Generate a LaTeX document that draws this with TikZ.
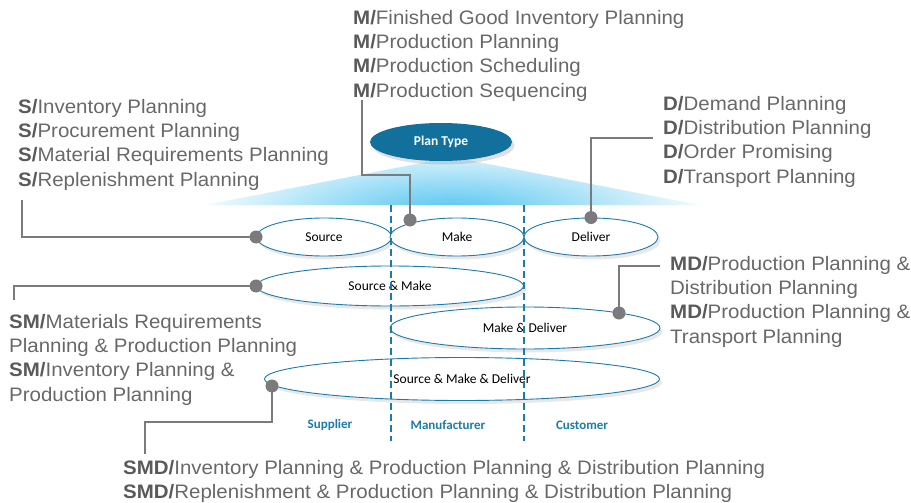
\documentclass[tikz,border=0pt]{standalone}
\usepackage{fontspec}
\setmainfont{Liberation Sans}
\newfontfamily\labfont[FakeStretch=1.05]{Liberation Sans}
\newfontfamily\calfont{Carlito}
\usetikzlibrary{shapes.geometric,shadows}
\definecolor{tealline}{HTML}{1B7BAA}
\definecolor{tealfill}{HTML}{11709C}
\definecolor{fanblue}{HTML}{4EC3F0}
\definecolor{txtgray}{HTML}{686868}
\definecolor{boldgray}{HTML}{5A5A5A}
\definecolor{lngray}{HTML}{7B7B7E}
\newcommand{\pre}[1]{{\bfseries\color{boldgray}#1}}
\tikzset{
  lbl/.style={anchor=north west, align=left, text=txtgray, inner sep=0pt,
    font=\labfont\fontsize{19.5}{24.3}\selectfont},
  oval/.style={ellipse, draw=tealline, line width=0.9pt, fill=white, inner sep=0pt,
    font=\calfont\fontsize{13.5}{15}\selectfont,
    drop shadow={opacity=0.18, shadow xshift=2.5pt, shadow yshift=-3.5pt}},
  conn/.style={draw=lngray, line width=2.5pt},
  dotn/.style={circle, fill=lngray, inner sep=0pt, minimum size=13pt},
  divider/.style={draw=tealline, line width=2pt, dash pattern=on 7pt off 4pt},
  region/.style={text=tealline, font=\calfont\bfseries\fontsize{13}{15}\selectfont}
}
\begin{document}
\begin{tikzpicture}[x=1pt,y=-1pt]
\useasboundingbox (0,0) rectangle (911,503);
% fan of light
\begin{scope}
  \clip (205,205) -- (452,157) -- (700,205) -- cycle;
  \shade[inner color=fanblue, outer color=white] (452,214) ellipse (270pt and 74pt);
\end{scope}
% plan type
\node[ellipse, fill=tealfill, minimum width=142pt, minimum height=38pt, inner sep=0pt,
  text=white, font=\calfont\bfseries\fontsize{13.5}{15}\selectfont,
  drop shadow={opacity=0.25, shadow xshift=2.5pt, shadow yshift=-3.5pt}] (plan) at (441,142) {Plan Type};
% ellipses
\node[oval, minimum width=135pt, minimum height=38pt] (src) at (324,237) {Source};
\node[oval, minimum width=134pt, minimum height=38pt] (mk) at (457,237) {Make};
\node[oval, minimum width=134pt, minimum height=38pt] (dl) at (591,237) {Deliver};
\node[oval, minimum width=267pt, minimum height=40pt] (sm) at (390,286) {Source \& Make};
\node[oval, minimum width=270pt, minimum height=42pt] (md) at (525,328) {Make \& Deliver};
\node[oval, minimum width=395pt, minimum height=43pt] (smd) at (462,379) {Source \& Make \& Deliver};
% dividers
\coordinate (d1t) at (390.5,205); \coordinate (d1b) at (390.5,441);
\coordinate (d2t) at (524,205); \coordinate (d2b) at (524,441);
\draw[divider] (d1t) -- (d1b);
\draw[divider] (d2t) -- (d2b);
% region labels
\node[region] (sup) at (330,425) {Supplier};
\node[region] (man) at (448,425) {Manufacturer};
\node[region] (cus) at (582,425) {Customer};
% text blocks
\node[lbl] (ts) at (18,99) {\pre{S/}Inventory Planning\\\pre{S/}Procurement Planning\\\pre{S/}Material Requirements Planning\\\pre{S/}Replenishment Planning};
\node[lbl] (tm) at (353,10) {\pre{M/}Finished Good Inventory Planning\\\pre{M/}Production Planning\\\pre{M/}Production Scheduling\\\pre{M/}Production Sequencing};
\node[lbl] (td) at (663,96) {\pre{D/}Demand Planning\\\pre{D/}Distribution Planning\\\pre{D/}Order Promising\\\pre{D/}Transport Planning};
\node[lbl] (tsm) at (9,314) {\pre{SM/}Materials Requirements\\Planning \& Production Planning\\\pre{SM/}Inventory Planning \&\\Production Planning};
\node[lbl] (tmd) at (670,256) {\pre{MD/}Production Planning \&\\Distribution Planning\\\pre{MD/}Production Planning \&\\Transport Planning};
\node[lbl] (tsmd) at (123,460) {\pre{SMD/}Inventory Planning \& Production Planning \& Distribution Planning\\\pre{SMD/}Replenishment \& Production Planning \& Distribution Planning};
% connector points
\coordinate (ps) at (src.west);
\coordinate (pm) at (410,220);
\coordinate (pd) at (dl.north);
\coordinate (psm) at (sm.west);
\coordinate (pmd) at (619,313);
\coordinate (psmd) at (272,386);
\coordinate (es) at (22,200);
\coordinate (em) at (362,100);
\coordinate (ed) at (653,138);
\coordinate (esm) at (14,300);
\coordinate (emd) at (660,266);
\coordinate (esmd) at (145,454);
% connectors
\draw[conn] (ps) -- (es |- ps) -- (es);
\draw[conn] (pm) -- (410,175) -- (em |- 0,175) -- (em);
\draw[conn] (pd) |- (ed);
\draw[conn] (psm) -- (esm |- psm) -- (esm);
\draw[conn] (pmd) |- (emd);
\draw[conn] (psmd) -- (272,422) -- (esmd |- 0,422) -- (esmd);
% dots
\node[dotn] (ds) at (ps) {};
\node[dotn] (dm) at (pm) {};
\node[dotn] (dd) at (pd) {};
\node[dotn] (dsm) at (psm) {};
\node[dotn] (dmd) at (pmd) {};
\node[dotn] (dsmd) at (psmd) {};
\end{tikzpicture}
\end{document}
